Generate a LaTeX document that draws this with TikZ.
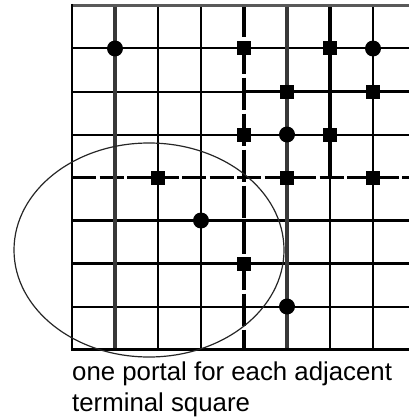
\documentclass[tikz,border=0pt]{standalone}
\usepackage{fontspec}
\setmainfont{Liberation Sans}
\begin{document}
\begin{tikzpicture}[x=1pt,y=-1pt,
  thinline/.style={line width=2pt,black},
  thickline/.style={line width=3.6pt,black},
  grayline/.style={line width=4pt,color=black!78},
  dashline/.style={line width=2.4pt,black,dash pattern=on 24pt off 3.5pt},
  vdashline/.style={line width=4pt,black,dash pattern=on 32pt off 4pt},
  portal/.style={fill=black,minimum size=14pt,inner sep=0pt,draw=none,rectangle},
  term/.style={fill=black,minimum size=16pt,inner sep=0pt,draw=none,circle},
  lbl/.style={font=\fontsize{25.8}{31}\selectfont,anchor=base west,align=left,inner sep=0pt}]
\useasboundingbox (0,0) rectangle (409,420);
\begin{scope}
\clip (0,0) rectangle (409,420);
% horizontal lines
\draw[thinline] (72,48.5) -- (409,48.5);
\draw[thinline] (72,91.5) -- (244,91.5);
\draw[thickline] (244,91.5) -- (409,91.5);
\draw[thinline] (72,134.5) -- (409,134.5);
\draw[dashline] (72,177.5) -- (409,177.5);
\draw[thickline] (72,220.5) -- (409,220.5);
\draw[thickline] (72,263.5) -- (409,263.5);
\draw[thinline] (72,306.5) -- (409,306.5);
% vertical lines
\draw[grayline] (115,5.5) -- (115,349.5);
\draw[thinline] (158,5.5) -- (158,349.5);
\draw[thinline] (201,5.5) -- (201,349.5);
\draw[vdashline] (244,5.5) -- (244,349.5);
\draw[grayline] (287,5.5) -- (287,349.5);
\draw[line width=4.4pt,black] (330,5.5) -- (330,177.5);
\draw[thinline] (330,177.5) -- (330,349.5);
\draw[thinline] (373,5.5) -- (373,349.5);
% borders
\draw[line width=3pt,color=black!65] (72,5.5) -- (409,5.5);
\draw[line width=3pt,black] (72,349.5) -- (409,349.5);
\draw[line width=2.6pt,black] (72,4) -- (72,351);
\end{scope}
% portals and terminals
\node[term] (t1) at (115,48.5) {};
\node[portal] (p1) at (244,48.5) {};
\node[portal] (p2) at (330,48.5) {};
\node[term] (t2) at (373,48.5) {};
\node[portal] (p3) at (287,91.5) {};
\node[portal] (p4) at (373,91.5) {};
\node[portal] (p5) at (244,134.5) {};
\node[term] (t3) at (287,134.5) {};
\node[portal] (p6) at (330,134.5) {};
\node[portal] (p7) at (158,177.5) {};
\node[portal] (p8) at (287,177.5) {};
\node[portal] (p9) at (373,177.5) {};
\node[term] (t4) at (201,220.5) {};
\node[portal] (p10) at (244,263.5) {};
\node[term] (t5) at (287,306.5) {};
% ellipse
\draw[line width=1.2pt,color=black!85] (149,250) ellipse [x radius=135, y radius=107];
% caption
\node[lbl] (cap) at (72,411) {one portal for each adjacent\\terminal square};
\end{tikzpicture}
\end{document}
